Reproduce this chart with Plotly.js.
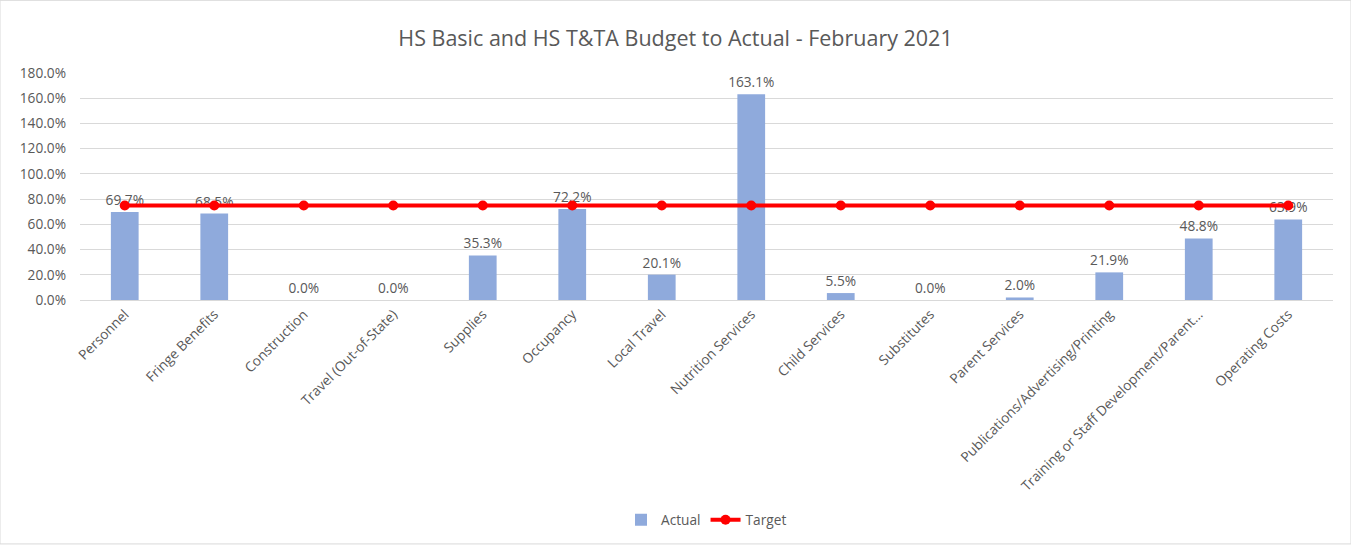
<!DOCTYPE html>
<html><head><meta charset="utf-8">
<script src="https://cdn.plot.ly/plotly-3.0.1.min.js"></script>
<style>html,body{margin:0;padding:0;background:#fff}#chart{width:1351px;height:546px}</style>
</head><body><div id="chart"></div>
<script>
const categories = ["Personnel","Fringe Benefits","Construction","Travel (Out-of-State)","Supplies","Occupancy","Local Travel","Nutrition Services","Child Services","Substitutes","Parent Services","Publications/Advertising/Printing","Training or Staff Development/Parent\u2026","Operating Costs"];
const actual = [69.7,68.5,0.0,0.0,35.3,72.2,20.1,163.1,5.5,0.0,2.0,21.9,48.8,63.9];
const target = [75,75,75,75,75,75,75,75,75,75,75,75,75,75];
const yTicks = [0,20,40,60,80,100,120,140,160,180];

const font = "'Open Sans', sans-serif";
const grey = "#595959";
const fs = 13.7;
const data = [
  {type:"bar", name:"Actual", x:categories, y:actual, marker:{color:"#8faadc"},
   text:actual.map(v=>v.toFixed(1)+"%"), textposition:"outside", cliponaxis:false, constraintext:"none",
   textfont:{size:fs,color:grey,family:font}, hoverinfo:"skip"},
  {type:"scatter", mode:"lines+markers", name:"Target", x:categories, y:target,
   line:{color:"#ff0000",width:4}, marker:{color:"#ff0000",size:10}, cliponaxis:false}
];
const layout = {
  width:1351, height:546,
  margin:{l:80,r:18,t:73,b:245},
  paper_bgcolor:"#fff", plot_bgcolor:"#fff",
  font:{family:font,color:grey,size:fs},
  title:{text:"HS Basic and HS T&TA Budget to Actual - February 2021", x:0.5, xanchor:"center", y:0.93, yanchor:"middle", font:{size:21.5,color:grey,family:font}},
  bargap:0.69,
  showlegend:true,
  legend:{orientation:"h", x:0.5, xanchor:"center", y:-0.96, yanchor:"middle", font:{size:fs,color:grey}},
  xaxis:{type:"category", range:[-0.5,13.5], tickangle:-45, showgrid:false, showline:true, linecolor:"#d9d9d9", ticks:"", tickfont:{size:fs,color:grey}, automargin:false},
  yaxis:{range:[0,180], tickvals:yTicks, ticktext:yTicks.map(v=>v.toFixed(1)+"%"), showgrid:true, gridcolor:"#d9d9d9", zeroline:false, showline:false, ticks:"", ticklabelstandoff:13, tickfont:{size:fs,color:grey}, automargin:false},
  shapes:[{type:"rect", xref:"paper", yref:"paper", x0:-80/1253, x1:1+18/1253, y0:-245/228, y1:1+73/228, line:{color:"#d9d9d9",width:1}}]
};
Plotly.newPlot("chart", data, layout, {displayModeBar:false, staticPlot:true});
</script></body></html>
